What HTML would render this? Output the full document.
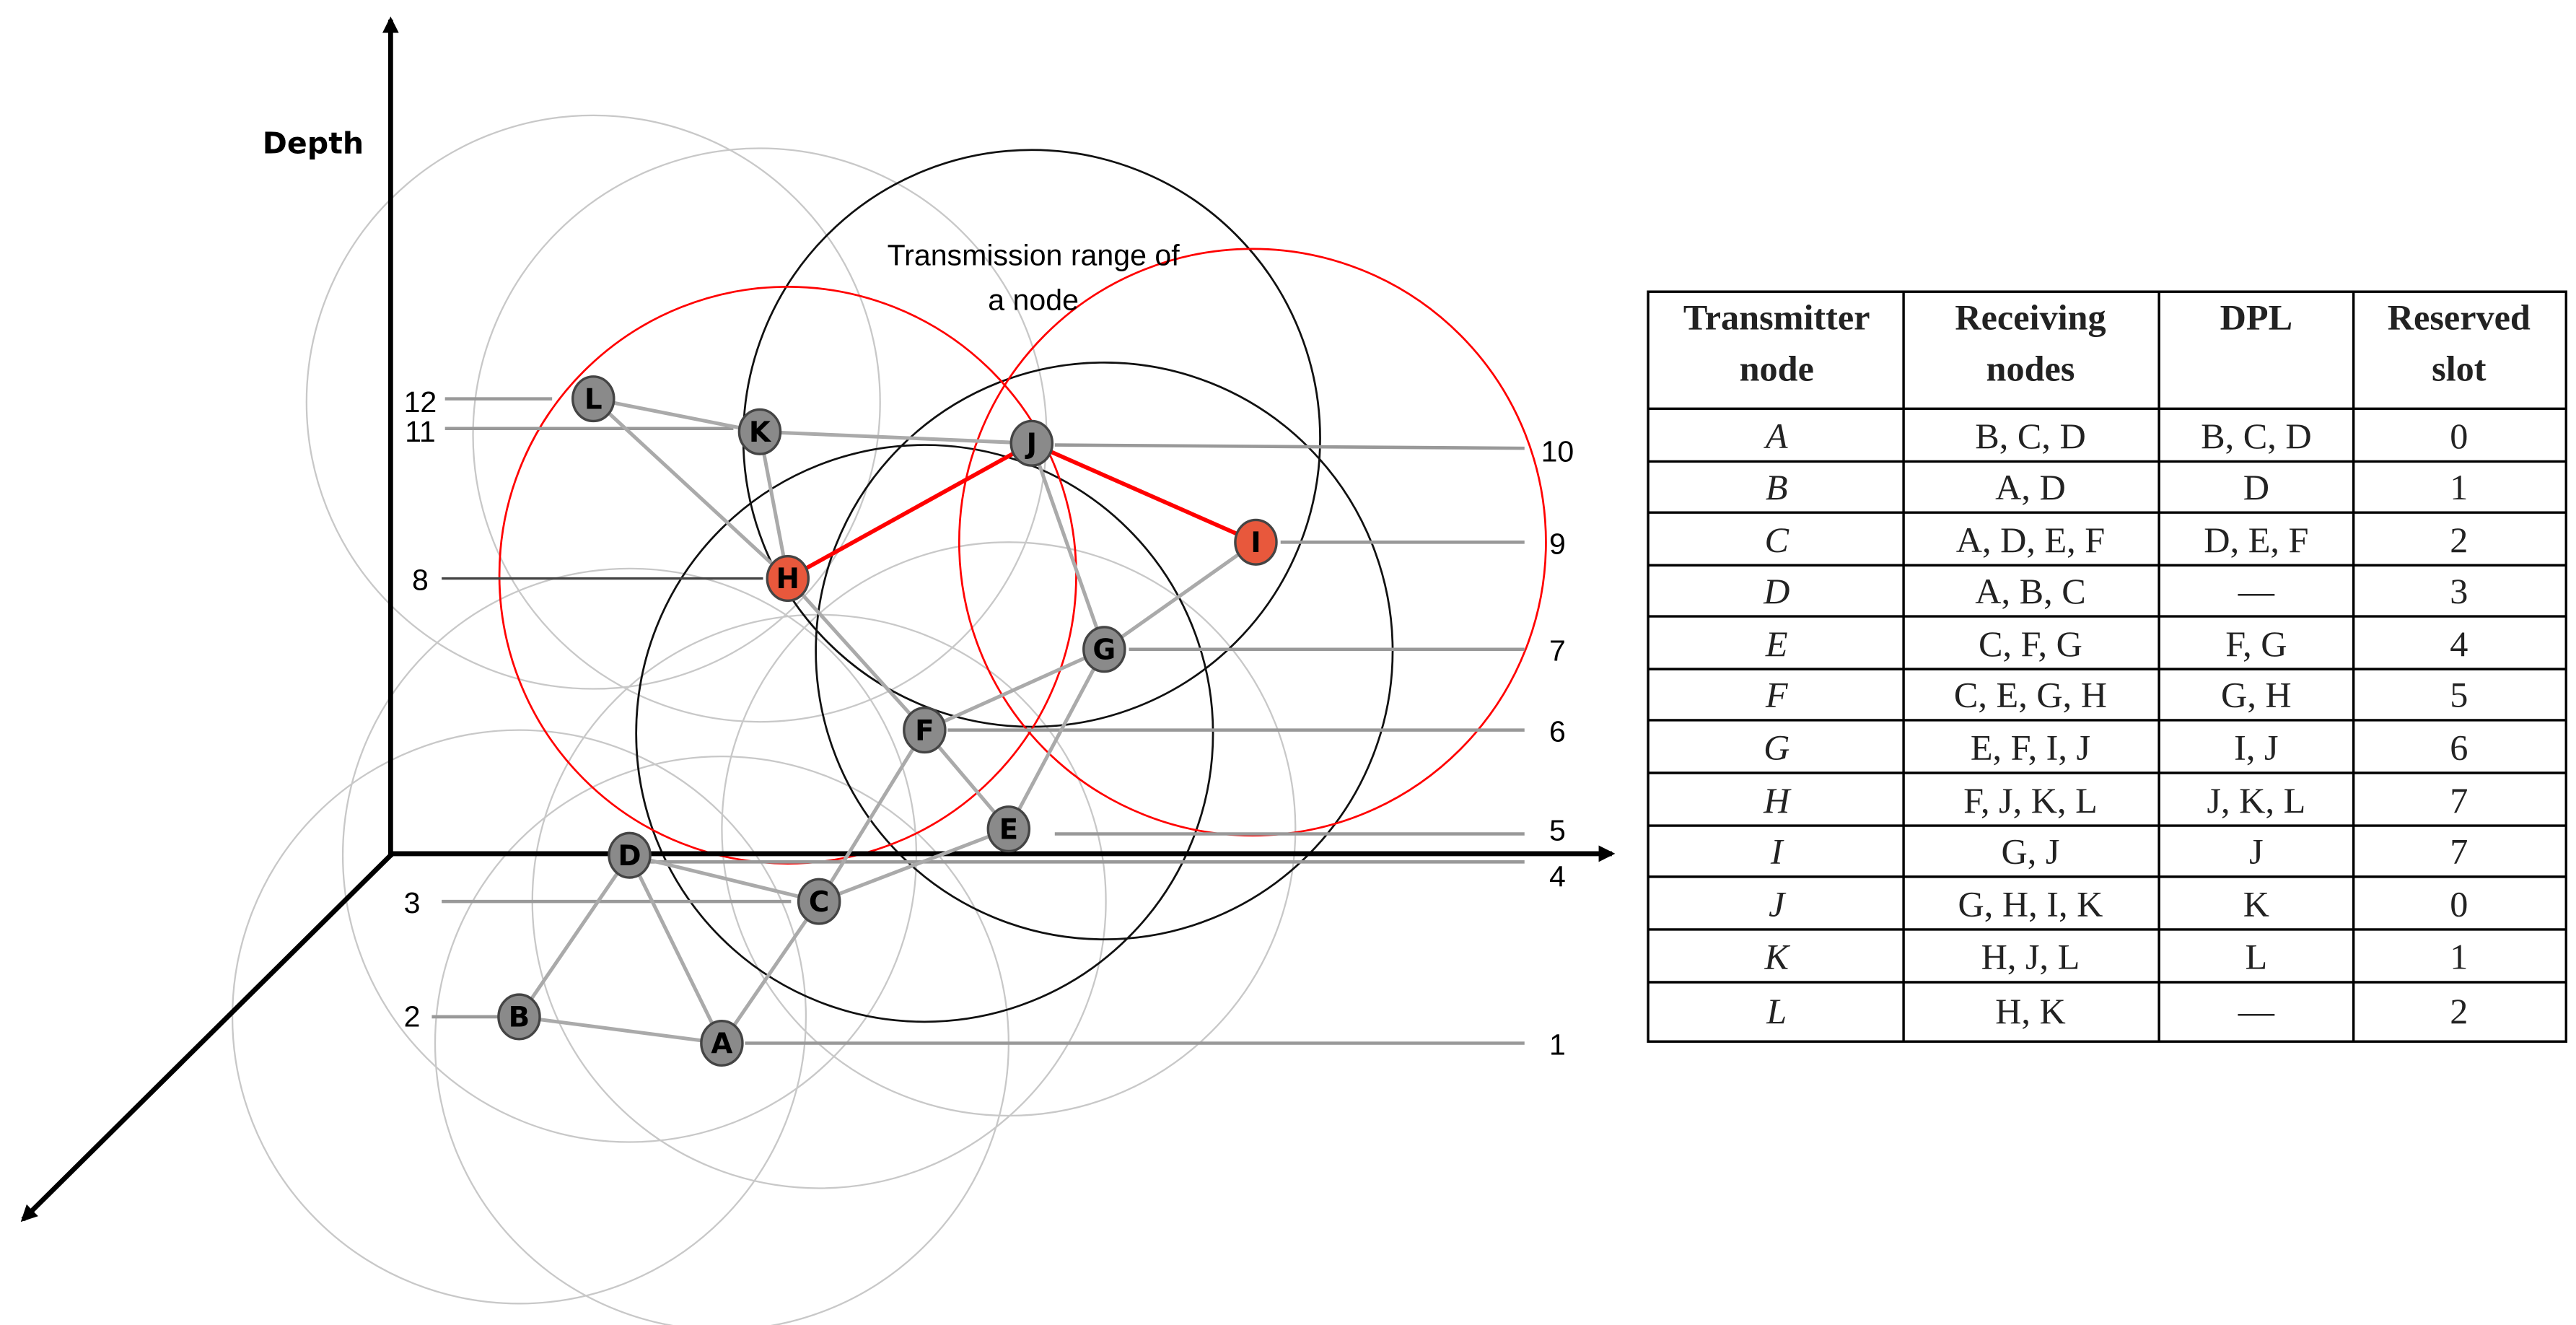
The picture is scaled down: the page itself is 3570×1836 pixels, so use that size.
<!DOCTYPE html>
<html><head><meta charset="utf-8"><style>
html,body{margin:0;padding:0;background:#fff;}
svg{display:block;}
.n{font-family:"DejaVu Sans","Liberation Sans",sans-serif;font-weight:bold;font-size:17px;text-anchor:middle;}
.num{font-family:"Liberation Sans",sans-serif;font-size:18px;}
.t{font-family:"Liberation Serif",serif;font-size:22px;text-anchor:middle;fill:#222;}
.th{font-weight:bold;}
.ti{font-style:italic;}
</style></head><body>
<svg width="3570" height="1836" viewBox="0 0 1563 804" preserveAspectRatio="none" xmlns="http://www.w3.org/2000/svg">
<defs>
<marker id="ah" markerWidth="10" markerHeight="10" refX="8" refY="5" orient="auto" markerUnits="userSpaceOnUse" viewBox="0 0 10 10"><path d="M0,0 L10,5 L0,10 z" fill="#000"/></marker>
</defs>
<!-- gray circles -->
<g fill="none" stroke="#c8c8c8" stroke-width="1">
<circle cx="360" cy="244" r="174"/>
<circle cx="461" cy="264" r="174"/>
<circle cx="612" cy="503" r="174"/>
<circle cx="382" cy="519" r="174"/>
<circle cx="497" cy="547" r="174"/>
<circle cx="315" cy="617" r="174"/>
<circle cx="438" cy="633" r="174"/>
</g>
<!-- black circles -->
<g fill="none" stroke="#111" stroke-width="1.2">
<circle cx="626" cy="266" r="175"/>
<circle cx="670" cy="395" r="175"/>
<circle cx="561" cy="445" r="175"/>
</g>
<!-- red circles -->
<g fill="none" stroke="#f00" stroke-width="1.2">
<circle cx="478" cy="349" r="175"/>
<circle cx="760" cy="329" r="178"/>
</g>
<!-- axes -->
<g stroke="#000" stroke-width="3" fill="none">
<line x1="237" y1="520" x2="237" y2="12" marker-end="url(#ah)"/>
<line x1="236" y1="518" x2="978" y2="518" marker-end="url(#ah)"/>
<line x1="238" y1="518" x2="14" y2="740" marker-end="url(#ah)"/>
</g>
<text x="190" y="93" font-family="DejaVu Sans,Liberation Sans,sans-serif" font-weight="bold" font-size="18" text-anchor="middle">Depth</text>
<text x="627" y="161" font-family="Liberation Sans,sans-serif" font-size="18" text-anchor="middle">Transmission range of</text>
<text x="627" y="188" font-family="Liberation Sans,sans-serif" font-size="18" text-anchor="middle">a node</text>
<!-- leader lines -->
<g stroke="#999" stroke-width="2">
<line x1="270" y1="242" x2="335" y2="242"/>
<line x1="270" y1="260" x2="445" y2="260"/>
<line x1="268" y1="547" x2="480" y2="547"/>
<line x1="262" y1="617" x2="302" y2="617"/>
<line x1="640" y1="270" x2="925" y2="272"/>
<line x1="777" y1="329" x2="925" y2="329"/>
<line x1="685" y1="394" x2="925" y2="394"/>
<line x1="575" y1="443" x2="925" y2="443"/>
<line x1="640" y1="506" x2="925" y2="506"/>
<line x1="394" y1="523" x2="925" y2="523"/>
<line x1="452" y1="633" x2="925" y2="633"/>
</g>
<line x1="268" y1="351" x2="463" y2="351" stroke="#444" stroke-width="1.5"/>
<g class="num">
<text x="255" y="250" text-anchor="middle">12</text>
<text x="255" y="268" text-anchor="middle">11</text>
<text x="255" y="358" text-anchor="middle">8</text>
<text x="250" y="554" text-anchor="middle">3</text>
<text x="250" y="623" text-anchor="middle">2</text>
<text x="945" y="280" text-anchor="middle">10</text>
<text x="945" y="336" text-anchor="middle">9</text>
<text x="945" y="401" text-anchor="middle">7</text>
<text x="945" y="450" text-anchor="middle">6</text>
<text x="945" y="510" text-anchor="middle">5</text>
<text x="945" y="538" text-anchor="middle">4</text>
<text x="945" y="640" text-anchor="middle">1</text>
</g>
<!-- edges -->
<g stroke="#aaa" stroke-width="2.2">
<line x1="360" y1="242" x2="461" y2="262"/>
<line x1="461" y1="262" x2="626" y2="269"/>
<line x1="360" y1="242" x2="478" y2="351"/>
<line x1="461" y1="262" x2="478" y2="351"/>
<line x1="626" y1="269" x2="670" y2="394"/>
<line x1="670" y1="394" x2="762" y2="329"/>
<line x1="670" y1="394" x2="561" y2="443"/>
<line x1="670" y1="394" x2="612" y2="503"/>
<line x1="478" y1="351" x2="561" y2="443"/>
<line x1="561" y1="443" x2="612" y2="503"/>
<line x1="561" y1="443" x2="497" y2="547"/>
<line x1="612" y1="503" x2="497" y2="547"/>
<line x1="382" y1="519" x2="497" y2="547"/>
<line x1="382" y1="519" x2="315" y2="617"/>
<line x1="382" y1="519" x2="438" y2="633"/>
<line x1="315" y1="617" x2="438" y2="633"/>
<line x1="438" y1="633" x2="497" y2="547"/>
</g>
<g stroke="#f00" stroke-width="2.5">
<line x1="478" y1="351" x2="626" y2="269"/>
<line x1="626" y1="269" x2="762" y2="329"/>
</g>
<!-- nodes -->
<g stroke="#444" stroke-width="1.5">
<ellipse cx="360" cy="242" rx="12.5" ry="13.5" fill="#8a8a8a"/>
<ellipse cx="461" cy="262" rx="12.5" ry="13.5" fill="#8a8a8a"/>
<ellipse cx="626" cy="269" rx="12.5" ry="13.5" fill="#8a8a8a"/>
<ellipse cx="762" cy="329" rx="12.5" ry="13.5" fill="#e8583c"/>
<ellipse cx="478" cy="351" rx="12.5" ry="13.5" fill="#e8583c"/>
<ellipse cx="670" cy="394" rx="12.5" ry="13.5" fill="#8a8a8a"/>
<ellipse cx="561" cy="443" rx="12.5" ry="13.5" fill="#8a8a8a"/>
<ellipse cx="612" cy="503" rx="12.5" ry="13.5" fill="#8a8a8a"/>
<ellipse cx="382" cy="519" rx="12.5" ry="13.5" fill="#8a8a8a"/>
<ellipse cx="497" cy="547" rx="12.5" ry="13.5" fill="#8a8a8a"/>
<ellipse cx="315" cy="617" rx="12.5" ry="13.5" fill="#8a8a8a"/>
<ellipse cx="438" cy="633" rx="12.5" ry="13.5" fill="#8a8a8a"/>
</g>
<g class="n">
<text x="360" y="248">L</text>
<text x="461" y="268">K</text>
<text x="626" y="275">J</text>
<text x="762" y="335">I</text>
<text x="478" y="357">H</text>
<text x="670" y="400">G</text>
<text x="561" y="449">F</text>
<text x="612" y="509">E</text>
<text x="382" y="525">D</text>
<text x="497" y="553">C</text>
<text x="315" y="623">B</text>
<text x="438" y="639">A</text>
</g>
<!-- table -->
<g stroke="#000" stroke-width="1.5" fill="none">
<rect x="1000" y="177" width="557" height="455"/>
<line x1="1155" y1="177" x2="1155" y2="632"/>
<line x1="1310" y1="177" x2="1310" y2="632"/>
<line x1="1428" y1="177" x2="1428" y2="632"/>
<line x1="1000" y1="248" x2="1557" y2="248"/>
<line x1="1000" y1="280" x2="1557" y2="280"/>
<line x1="1000" y1="311" x2="1557" y2="311"/>
<line x1="1000" y1="343" x2="1557" y2="343"/>
<line x1="1000" y1="374" x2="1557" y2="374"/>
<line x1="1000" y1="406" x2="1557" y2="406"/>
<line x1="1000" y1="437" x2="1557" y2="437"/>
<line x1="1000" y1="469" x2="1557" y2="469"/>
<line x1="1000" y1="501" x2="1557" y2="501"/>
<line x1="1000" y1="532" x2="1557" y2="532"/>
<line x1="1000" y1="564" x2="1557" y2="564"/>
<line x1="1000" y1="596" x2="1557" y2="596"/>
</g>
<g class="t th">
<text x="1078" y="200">Transmitter</text><text x="1078" y="231">node</text>
<text x="1232" y="200">Receiving</text><text x="1232" y="231">nodes</text>
<text x="1369" y="200">DPL</text>
<text x="1492" y="200">Reserved</text><text x="1492" y="231">slot</text>
</g>
<g class="t">
<text class="ti" x="1078" y="272">A</text><text x="1232" y="272">B, C, D</text><text x="1369" y="272">B, C, D</text><text x="1492" y="272">0</text>
<text class="ti" x="1078" y="303">B</text><text x="1232" y="303">A, D</text><text x="1369" y="303">D</text><text x="1492" y="303">1</text>
<text class="ti" x="1078" y="335">C</text><text x="1232" y="335">A, D, E, F</text><text x="1369" y="335">D, E, F</text><text x="1492" y="335">2</text>
<text class="ti" x="1078" y="366">D</text><text x="1232" y="366">A, B, C</text><text x="1369" y="366">—</text><text x="1492" y="366">3</text>
<text class="ti" x="1078" y="398">E</text><text x="1232" y="398">C, F, G</text><text x="1369" y="398">F, G</text><text x="1492" y="398">4</text>
<text class="ti" x="1078" y="429">F</text><text x="1232" y="429">C, E, G, H</text><text x="1369" y="429">G, H</text><text x="1492" y="429">5</text>
<text class="ti" x="1078" y="461">G</text><text x="1232" y="461">E, F, I, J</text><text x="1369" y="461">I, J</text><text x="1492" y="461">6</text>
<text class="ti" x="1078" y="493">H</text><text x="1232" y="493">F, J, K, L</text><text x="1369" y="493">J, K, L</text><text x="1492" y="493">7</text>
<text class="ti" x="1078" y="524">I</text><text x="1232" y="524">G, J</text><text x="1369" y="524">J</text><text x="1492" y="524">7</text>
<text class="ti" x="1078" y="556">J</text><text x="1232" y="556">G, H, I, K</text><text x="1369" y="556">K</text><text x="1492" y="556">0</text>
<text class="ti" x="1078" y="588">K</text><text x="1232" y="588">H, J, L</text><text x="1369" y="588">L</text><text x="1492" y="588">1</text>
<text class="ti" x="1078" y="621">L</text><text x="1232" y="621">H, K</text><text x="1369" y="621">—</text><text x="1492" y="621">2</text>
</g>
</svg>
</body></html>
